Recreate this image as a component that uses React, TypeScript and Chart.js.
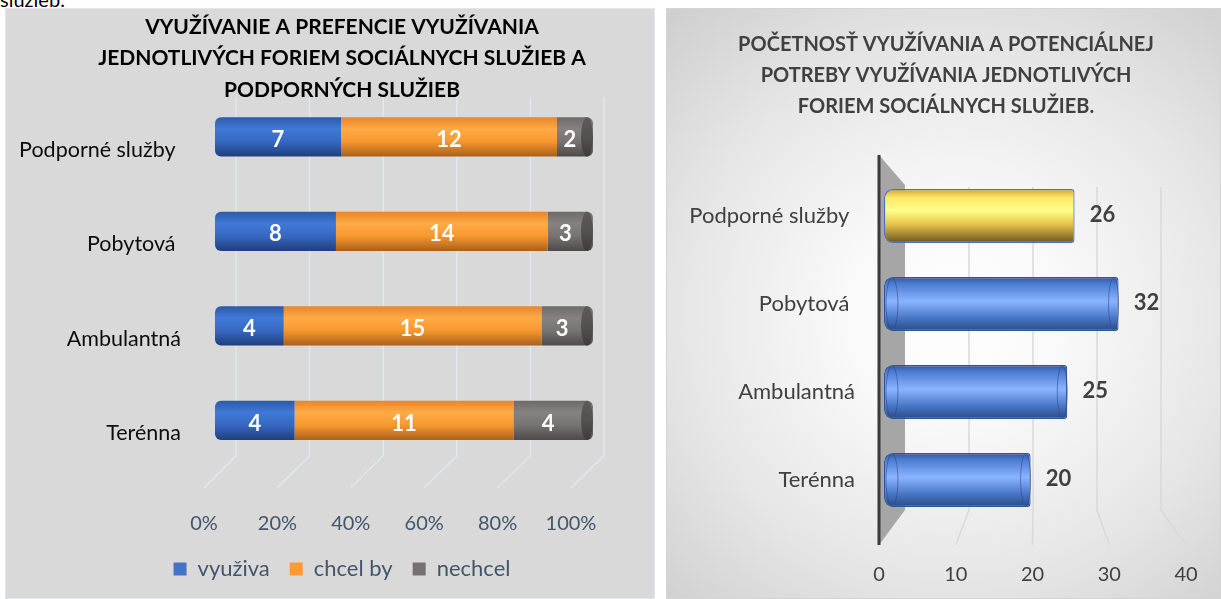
import React, { useEffect, useRef } from 'react';
import { Chart, registerables } from 'chart.js';

Chart.register(...registerables);

// ---------- data ----------
const categories = ['Podporné služby ', 'Pobytová ', 'Ambulantná', 'Terénna'];
const vyuziva = [7, 8, 4, 4];
const chcelBy = [12, 14, 15, 11];
const nechcel = [2, 3, 3, 4];
const leftSeriesNames = ['využiva', 'chcel by', 'nechcel'];
const percentTicks = [0, 20, 40, 60, 80, 100];

const pocetnost = [26, 32, 25, 20];
const countTicks = [0, 10, 20, 30, 40];

const leftTitle = [
  'VYUŽÍVANIE A PREFENCIE VYUŽÍVANIA',
  'JEDNOTLIVÝCH FORIEM SOCIÁLNYCH SLUŽIEB A',
  'PODPORNÝCH SLUŽIEB',
];
const rightTitle = [
  'POČETNOSŤ VYUŽÍVANIA A POTENCIÁLNEJ',
  'POTREBY VYUŽÍVANIA JEDNOTLIVÝCH',
  'FORIEM SOCIÁLNYCH SLUŽIEB.',
];

// ---------- styles ----------
const FONT = 'Lato, "Open Sans", sans-serif';
const legendColors = ['#4472c4', '#ff9933', '#767171'];
const leftStops: [number, string][][] = [
  [[0, '#2c5aa8'], [0.3, '#4079d8'], [0.62, '#3668c2'], [1, '#1f3f7c']],
  [[0, '#e8852a'], [0.3, '#ffab45'], [0.62, '#f7982f'], [1, '#a8601a']],
  [[0, '#6e6a6a'], [0.3, '#868282'], [0.62, '#777373'], [1, '#4d4a4a']],
];
const blueStops: [number, string][] = [[0, '#2f5597'], [0.12, '#4a7bd0'], [0.45, '#8ab4ff'], [0.75, '#4a78c8'], [1, '#2a4a85']];
const yellowStops: [number, string][] = [[0, '#c9a530'], [0.15, '#ffe566'], [0.4, '#ffff8c'], [0.65, '#e6c44a'], [1, '#6a5420']];

const LEFT_BAR_PCT = 0.415;
const RIGHT_BAR_PCT = 0.614;

function cylGradient(c: any, stops: [number, string][], pct: number, fallback: string) {
  const chart = c.chart;
  const y = chart.scales && chart.scales.y;
  if (!y || c.dataIndex === undefined || !chart.chartArea) return fallback;
  const yc = y.getPixelForValue(c.dataIndex);
  const band = Math.abs(y.getPixelForValue(1) - y.getPixelForValue(0));
  const h = band * pct;
  const g = chart.ctx.createLinearGradient(0, yc - h / 2, 0, yc + h / 2);
  stops.forEach(([o, col]) => g.addColorStop(o, col));
  return g;
}

// an empty right-hand axis that only reserves space, so that title and legend centre where the original has them
function spacerAxis(width: number): any {
  return {
    type: 'linear',
    position: 'right',
    display: true,
    grid: { display: false, drawTicks: false },
    border: { display: false },
    ticks: { display: false },
    afterFit: (s: any) => { s.width = width; },
  };
}

// ---------- left chart ----------
const leftSeries = [vyuziva, chcelBy, nechcel];
const totals = categories.map((_, i) => vyuziva[i] + chcelBy[i] + nechcel[i]);

const leftPlugin = {
  id: 'leftDecor',
  beforeDatasetsDraw(chart: any) {
    const { ctx, chartArea: ca } = chart;
    const xg = chart.scales.xg;
    const xt = chart.scales.xt;
    ctx.save();
    ctx.strokeStyle = '#e3e6ed';
    ctx.lineWidth = 1.5;
    percentTicks.forEach((v) => {
      const xb = xg.getPixelForValue(v);
      const xf = xt.getPixelForValue(v);
      ctx.beginPath();
      ctx.moveTo(xb, ca.top + 8);
      ctx.lineTo(xb, ca.bottom - 12);
      ctx.lineTo(xf, ca.bottom + 20);
      ctx.stroke();
    });
    ctx.restore();
  },
  afterDatasetsDraw(chart: any) {
    const { ctx } = chart;
    ctx.save();
    const lastMeta = chart.getDatasetMeta(leftSeries.length - 1);
    lastMeta.data.forEach((el: any) => {
      const p = el.getProps(['x', 'y', 'height'], true);
      const rx = 6;
      const g = ctx.createLinearGradient(0, p.y - p.height / 2, 0, p.y + p.height / 2);
      g.addColorStop(0, '#5e5a5a');
      g.addColorStop(0.5, '#555151');
      g.addColorStop(1, '#3e3b3b');
      ctx.fillStyle = g;
      ctx.beginPath();
      ctx.ellipse(p.x - rx, p.y, rx, p.height / 2, 0, 0, Math.PI * 2);
      ctx.fill();
    });
    ctx.fillStyle = '#ffffff';
    ctx.font = `bold 22px ${FONT}`;
    ctx.textAlign = 'center';
    ctx.textBaseline = 'middle';
    leftSeries.forEach((series, di) => {
      const meta = chart.getDatasetMeta(di);
      meta.data.forEach((el: any, i: number) => {
        const p = el.getProps(['x', 'y', 'base'], true);
        let cx = (p.x + p.base) / 2;
        if (di === leftSeries.length - 1) cx -= 5;
        ctx.fillText(String(series[i]), cx, p.y + 3);
      });
    });
    ctx.restore();
  },
};

function leftConfig(): any {
  const base = (Chart as any).defaults.plugins.legend.labels.generateLabels;
  return {
    type: 'bar',
    data: {
      labels: categories,
      datasets: leftSeries.map((series, di) => ({
        label: leftSeriesNames[di],
        data: series.map((v, i) => (v / totals[i]) * 100),
        backgroundColor: (c: any) => cylGradient(c, leftStops[di], LEFT_BAR_PCT, legendColors[di]),
        borderWidth: 0,
        borderRadius: 6,
        borderSkipped: 'middle',
        barPercentage: LEFT_BAR_PCT,
        categoryPercentage: 1,
      })),
    },
    options: {
      indexAxis: 'y',
      responsive: false,
      animation: false,
      devicePixelRatio: 1,
      layout: { padding: { left: 0, right: 0, top: 0, bottom: 9 } },
      plugins: {
        title: {
          display: true,
          text: leftTitle,
          color: '#000000',
          font: { family: FONT, size: 21, weight: 'bold', lineHeight: 1.5 },
          padding: { top: 3, bottom: -16 },
        },
        legend: {
          display: true,
          position: 'bottom',
          labels: {
            color: '#44546a',
            font: { family: FONT, size: 22 },
            boxWidth: 13,
            boxHeight: 13,
            padding: 20,
            generateLabels: (chart: any) =>
              base(chart).map((l: any, i: number) => ({ ...l, fillStyle: legendColors[i], strokeStyle: legendColors[i], lineWidth: 0 })),
          },
        },
        tooltip: { enabled: false },
      },
      scales: {
        y: {
          type: 'category',
          stacked: true,
          grid: { display: false, drawTicks: false },
          border: { display: false },
          ticks: { color: '#0d0d0d', font: { family: FONT, size: 21.5 }, padding: 23, labelOffset: 13 },
          afterFit: (s: any) => { s.width = 199; },
        },
        x: { type: 'linear', stacked: true, display: false, min: -2.91, max: 102.91 },
        xt: {
          type: 'linear',
          position: 'bottom',
          min: 0,
          max: 109,
          grid: { display: false, drawTicks: true, tickLength: 44 },
          border: { display: false },
          ticks: {
            stepSize: 20,
            includeBounds: false,
            autoSkip: false,
            maxRotation: 0,
            callback: (v: number) => (percentTicks.includes(v) ? `${v}%` : ''),
            color: '#44546a',
            font: { family: FONT, size: 20 },
            padding: 0,
          },
          afterFit: (s: any) => { s.height = 70.3; },
        },
        xg: { type: 'linear', display: false, min: -8.7, max: 100 },
        pad: spacerAxis(75),
      },
    },
    plugins: [leftPlugin],
  };
}

// ---------- right chart ----------
const rightPlugin = {
  id: 'rightDecor',
  beforeDatasetsDraw(chart: any) {
    const { ctx, chartArea: ca } = chart;
    const xg = chart.scales.xg;
    const xt = chart.scales.xt;
    ctx.save();
    ctx.strokeStyle = '#d9d9d9';
    ctx.lineWidth = 1.5;
    countTicks.slice(1).forEach((v) => {
      const xb = xg.getPixelForValue(v);
      const xf = xt.getPixelForValue(v);
      ctx.beginPath();
      ctx.moveTo(xb, ca.top + 15);
      ctx.lineTo(xb, ca.bottom - 14);
      ctx.lineTo(xf, ca.bottom + 21);
      ctx.stroke();
    });
    const x0f = xt.getPixelForValue(0);
    const x0b = xg.getPixelForValue(0);
    ctx.fillStyle = '#a6a6a6';
    ctx.beginPath();
    ctx.moveTo(x0f, ca.top - 17);
    ctx.lineTo(x0b, ca.top + 13);
    ctx.lineTo(x0b, ca.bottom - 14);
    ctx.lineTo(x0f, ca.bottom + 21);
    ctx.closePath();
    ctx.fill();
    ctx.strokeStyle = '#3a3a3a';
    ctx.lineWidth = 3;
    ctx.beginPath();
    ctx.moveTo(x0f, ca.top - 17);
    ctx.lineTo(x0f, ca.bottom + 21);
    ctx.stroke();
    ctx.restore();
  },
  afterDatasetsDraw(chart: any) {
    const { ctx } = chart;
    const meta = chart.getDatasetMeta(0);
    ctx.save();
    meta.data.forEach((el: any, i: number) => {
      const p = el.getProps(['x', 'y', 'base', 'height'], true);
      if (i > 0) {
        ctx.strokeStyle = 'rgba(40,70,140,0.55)';
        ctx.lineWidth = 1;
        ctx.beginPath();
        ctx.ellipse(p.base + 8, p.y, 6, p.height / 2 - 1, 0, 0, Math.PI * 2);
        ctx.stroke();
        ctx.beginPath();
        ctx.ellipse(p.x - 5, p.y, 5, p.height / 2 - 1, 0, 0, Math.PI * 2);
        ctx.stroke();
      }
      ctx.fillStyle = '#404040';
      ctx.font = `bold 22px ${FONT}`;
      ctx.textAlign = 'center';
      ctx.textBaseline = 'middle';
      ctx.fillText(String(pocetnost[i]), p.x + 28, p.y - 1);
    });
    ctx.restore();
  },
};

function rightConfig(): any {
  return {
    type: 'bar',
    data: {
      labels: categories,
      datasets: [
        {
          label: 'Početnosť',
          data: pocetnost,
          backgroundColor: (c: any) =>
            c.dataIndex === 0
              ? cylGradient(c, yellowStops, RIGHT_BAR_PCT, '#ffe566')
              : cylGradient(c, blueStops, RIGHT_BAR_PCT, '#4472c4'),
          borderColor: (c: any) => (c.dataIndex === 0 ? '#4472c4' : '#2f5597'),
          borderWidth: 1.2,
          borderSkipped: false,
          borderRadius: { topLeft: 9, bottomLeft: 9, topRight: 3, bottomRight: 3 },
          barPercentage: RIGHT_BAR_PCT,
          categoryPercentage: 1,
        },
      ],
    },
    options: {
      indexAxis: 'y',
      responsive: false,
      animation: false,
      devicePixelRatio: 1,
      layout: { padding: { left: 15, right: 10, top: 0, bottom: 0 } },
      plugins: {
        title: {
          display: true,
          text: rightTitle,
          color: '#404040',
          font: { family: FONT, size: 20, weight: 'bold', lineHeight: 1.55 },
          padding: { top: 21.5, bottom: 49.5 },
        },
        legend: { display: false },
        tooltip: { enabled: false },
      },
      scales: {
        y: {
          type: 'category',
          grid: { display: false, drawTicks: false },
          border: { display: false },
          ticks: { color: '#404040', font: { family: FONT, size: 22 }, padding: 24 },
          afterFit: (s: any) => { s.width = 198; },
        },
        x: { type: 'linear', display: false, min: -0.68, max: 41.2 },
        xt: {
          type: 'linear',
          position: 'bottom',
          min: 0,
          max: 40,
          grid: { display: false, drawTicks: true, tickLength: 39 },
          border: { display: false },
          ticks: {
            stepSize: 10,
            autoSkip: false,
            maxRotation: 0,
            callback: (v: number) => (countTicks.includes(v) ? String(v) : ''),
            color: '#404040',
            font: { family: FONT, size: 20 },
            padding: 0,
          },
          afterFit: (s: any) => { s.height = 75; },
        },
        xg: { type: 'linear', display: false, min: -4.06, max: 43.9 },
        pad: spacerAxis(25),
      },
    },
    plugins: [rightPlugin],
  };
}

export default function App() {
  const leftRef = useRef<HTMLCanvasElement>(null);
  const rightRef = useRef<HTMLCanvasElement>(null);

  useEffect(() => {
    document.body.style.overflow = 'hidden';
    const c1 = new Chart(leftRef.current as HTMLCanvasElement, leftConfig());
    const c2 = new Chart(rightRef.current as HTMLCanvasElement, rightConfig());
    return () => {
      c1.destroy();
      c2.destroy();
    };
  }, []);

  return (
    <div>
      <div
        style={{
          position: 'absolute', left: 0, top: -11, fontFamily: FONT, fontSize: 20,
          lineHeight: '20px', color: '#000', whiteSpace: 'nowrap',
        }}
      >
        služieb.
      </div>
      <div
        style={{
          position: 'absolute', left: 5, top: 8, width: 650, height: 591,
          background: '#d9d9d9', boxShadow: 'inset 0 0 0 1px #e2e6ec',
        }}
      >
        <canvas ref={leftRef} width={674} height={591} style={{ display: 'block', width: 674, height: 591 }} />
      </div>
      <div
        style={{
          position: 'absolute', left: 666, top: 8, width: 555, height: 591,
          background: 'radial-gradient(ellipse 80% 72% at 52% 52%, #ffffff 0%, #f9f9f9 25%, #e6e6e6 62%, #cccccc 100%)',
          boxShadow: 'inset 0 0 0 1px #d4d4d4',
        }}
      >
        <canvas ref={rightRef} width={555} height={591} style={{ display: 'block', width: 555, height: 591 }} />
      </div>
    </div>
  );
}
